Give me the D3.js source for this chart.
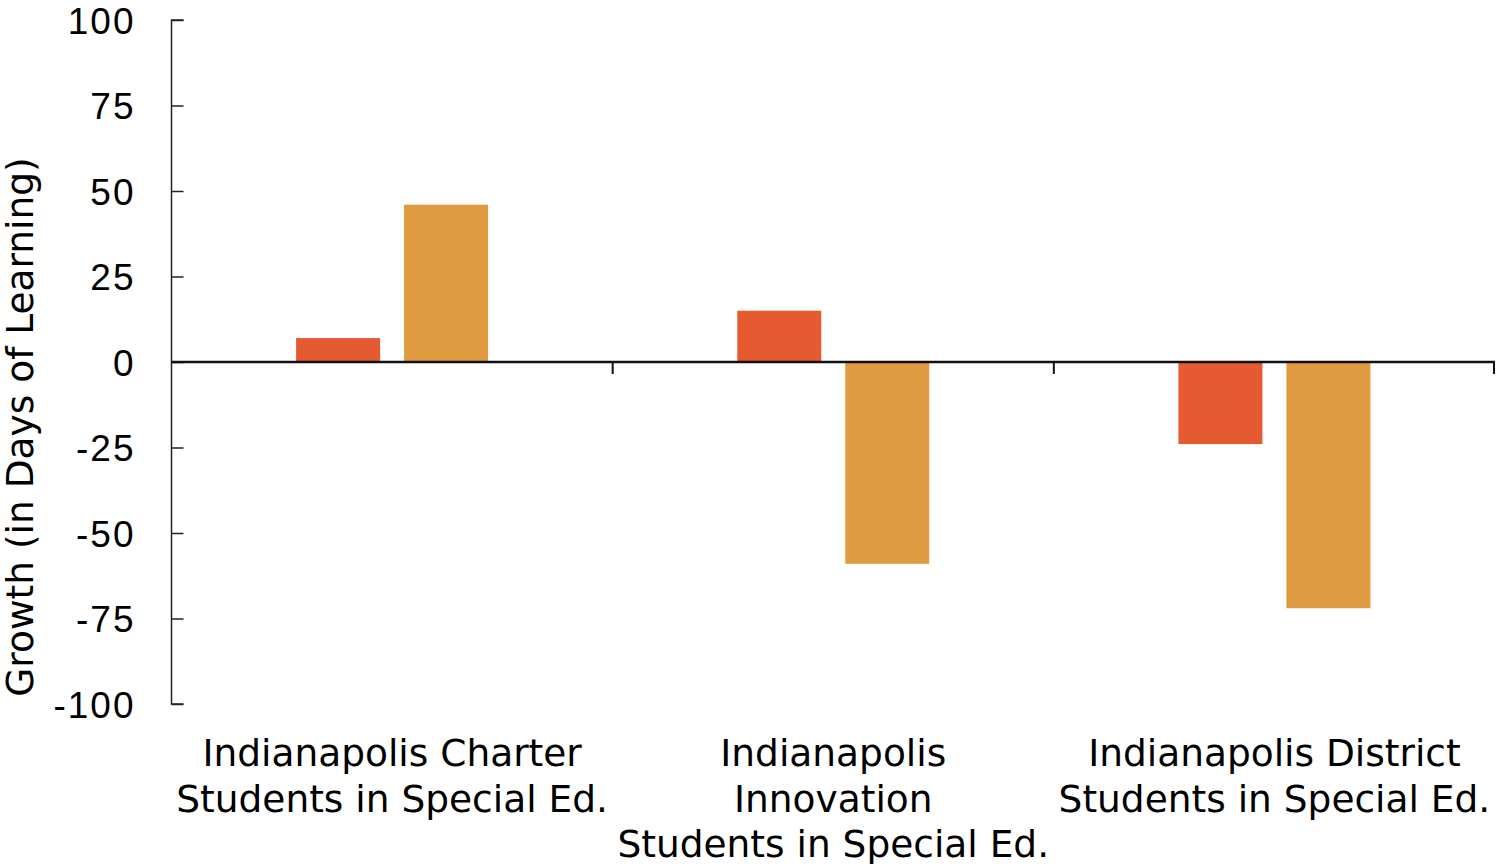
<!DOCTYPE html>
<html>
<head>
<meta charset="utf-8">
<script src="https://cdn.jsdelivr.net/npm/d3@7"></script>
<style>
  html, body { margin: 0; padding: 0; background: #fff; }
  svg { display: block; font-family: "DejaVu Sans", Verdana, sans-serif; }
</style>
</head>
<body>
<svg id="chart" width="1496" height="864"></svg>
<script>
// Categories (each label split into lines) and the two growth series
const categories = ["Charter", "Innovation", "District"];
const categoryLines = [
  ["Indianapolis Charter", "Students in Special Ed."],
  ["Indianapolis", "Innovation", "Students in Special Ed."],
  ["Indianapolis District", "Students in Special Ed."]
];
const seriesNames = ["Reading", "Math"];
const readingValues = [7, 15, -24];
const mathValues = [46, -59, -72];
const yTicks = [-100, -75, -50, -25, 0, 25, 50, 75, 100];
const seriesColors = ["#E65A31", "#E09B40"];

const rows = categories.map((c, i) => ({
  category: c,
  values: [readingValues[i], mathValues[i]]
}));

const svg = d3.select("#chart");
const plotLeft = 171.5, plotRight = 1495, plotTop = 20, plotBottom = 704;

const x0 = d3.scaleBand().domain(categories).range([plotLeft, plotRight]).padding(0);
const x1 = d3.scaleBand().domain(seriesNames)
  .range([0, x0.bandwidth()]).paddingInner(0.2222).paddingOuter(1.154);
const y = d3.scaleLinear().domain([-100, 100]).range([plotBottom, plotTop]);

// Bars
const groups = svg.append("g").selectAll("g").data(rows).join("g")
  .attr("transform", d => `translate(${x0(d.category)},0)`);
groups.selectAll("rect")
  .data(d => d.values.map((v, k) => ({ series: seriesNames[k], value: v, k })))
  .join("rect")
  .attr("x", d => x1(d.series))
  .attr("width", x1.bandwidth())
  .attr("y", d => y(Math.max(0, d.value)))
  .attr("height", d => Math.abs(y(d.value) - y(0)))
  .attr("fill", d => seriesColors[d.k]);

// Y axis with ticks pointing into the plot; plain hyphen for negatives
const yAxis = svg.append("g")
  .attr("transform", `translate(${plotLeft},0)`)
  .call(d3.axisRight(y).tickValues(yTicks).tickSize(12).tickFormat(d => String(d)));
yAxis.select(".domain").attr("stroke", "#222").attr("stroke-width", 1.5)
  .attr("d", `M12,${plotTop}H0V${plotBottom}H12`);
yAxis.selectAll(".tick line").attr("stroke", "#222").attr("stroke-width", 1.5);
yAxis.selectAll(".tick text")
  .attr("x", -36).attr("text-anchor", "end")
  .attr("letter-spacing", 2)
  .attr("font-size", 37).attr("fill", "#000").attr("dy", "0.36em");

// Zero baseline with category separators
const xAxis = svg.append("g").attr("transform", `translate(0,${y(0)})`);
xAxis.append("line")
  .attr("x1", plotLeft).attr("x2", plotRight)
  .attr("stroke", "#111").attr("stroke-width", 2.5);
xAxis.selectAll("line.sep")
  .data(categories.map(c => x0(c) + x0.bandwidth()))
  .join("line").attr("class", "sep")
  .attr("x1", d => Math.min(d, plotRight - 1)).attr("x2", d => Math.min(d, plotRight - 1))
  .attr("y1", 0).attr("y2", 12)
  .attr("stroke", "#111").attr("stroke-width", 2);

// Category labels below the plot
const labels = svg.append("g").selectAll("text").data(rows).join("text")
  .attr("x", d => x0(d.category) + x0.bandwidth() / 2)
  .attr("y", 766)
  .attr("text-anchor", "middle")
  .attr("font-size", 37.5)
  .attr("fill", "#000");
labels.selectAll("tspan")
  .data((d, i) => categoryLines[i])
  .join("tspan")
  .attr("x", function () { return d3.select(this.parentNode).attr("x"); })
  .attr("dy", (d, i) => i === 0 ? 0 : 45.5)
  .text(d => d);

// Y axis title
svg.append("text")
  .attr("transform", "translate(33,427) rotate(-90)")
  .attr("text-anchor", "middle")
  .attr("font-size", 37.5)
  .attr("fill", "#000")
  .text("Growth (in Days of Learning)");
</script>
</body>
</html>
